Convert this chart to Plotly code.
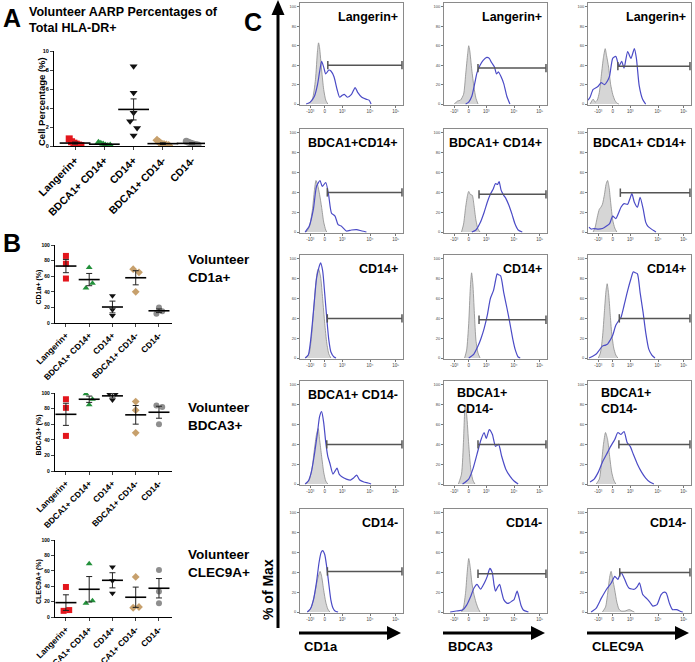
import plotly.graph_objects as go
import numpy as np

W, H = 695, 662
FONT = "Liberation Sans, Arial, sans-serif"

# ---------------- data ----------------
CATEGORIES = ["Langerin+", "BDCA1+ CD14+", "CD14+", "BDCA1+ CD14-", "CD14-"]

# Panel A : % of total HLA-DR+
A_LANGERIN = [0.75, 0.45, 0.3, 0.2, 0.1, 0.05]
A_BDCA1_CD14P = [0.4, 0.3, 0.2, 0.1, 0.05, 0.1]
A_CD14P = [8.4, 5.6, 3.5, 2.6, 1.9, 1.1]
A_BDCA1_CD14N = [0.6, 0.4, 0.2, 0.15, 0.1, 0.05]
A_CD14N = [0.5, 0.4, 0.3, 0.2, 0.15, 0.1]
A_TICKS = [0, 2, 4, 6, 8, 10]

# Panel B : % positive (3 volunteers per subset)
B_CD1A = [[86, 76, 57], [71, 45, 51], [35, 17, 9.5], [69, 65, 40], [20, 12, 15]]
B_BDCA3 = [[92, 81, 45], [99, 92, 85], [99, 99, 91], [89, 78, 49], [84, 82, 60]]
B_CLEC9A = [[39, 8, 9], [69, 18, 21], [65, 47, 31], [52, 12, 13], [61, 33, 18]]
B_TICKS = [0, 20, 40, 60, 80, 100]

# Panel C : histograms, (display position 0-100, % of max)
HIST_TICKVALS = [10, 24, 41, 68, 93]
HIST_TICKTEXT = ["-10³", "0", "10³", "10⁴", "10⁵"]
HIST_YTICKS = [0, 20, 40, 60, 80, 100]

CD1A_LANGERIN_ISO = [(8,0),(12,5),(15,25),(17,55),(18,63),(19,58),(21,35),(23,15),(25,4),(27,0)]
CD1A_LANGERIN_STAIN = [(6,0),(10,2),(14,8),(17,20),(19,33),(21,44),(23,38),(25,31),(28,35),(30,34),(33,28),(36,15),(38.5,7),(41,9),(43,10),(46,7),(50,10),(53.5,17),(56,12),(60,7),(64,5),(67,4),(69,0)]
CD1A_LANGERIN_GATE = (27, 40)

CD1A_BDCA1_CD14P_ISO = [(6,0),(9,5),(12,22),(14,42),(15.5,52),(17,48),(19,38),(21,25),(23,10),(25,2),(26,0)]
CD1A_BDCA1_CD14P_STAIN = [(5,0),(9,6),(13,23),(16,46),(19.4,52),(21.6,46),(25,50),(27.7,38),(30.6,19),(34,16),(37,7.5),(40,6),(45,1),(50,2),(55,2.4),(60,1),(64.5,0)]
CD1A_BDCA1_CD14P_GATE = (26.5, 40)

CD1A_CD14P_ISO = [(6,0),(9,5),(11,20),(13,45),(15,72),(17,88),(18,90),(20,82),(22,60),(24,35),(26,15),(28,4),(30,0)]
CD1A_CD14P_STAIN = [(5,0),(8,3),(10,15),(12,35),(14,58),(16,80),(18,90),(20,96),(22,88),(24,65),(26,40),(28,18),(30,6),(33,1),(35,0)]
CD1A_CD14P_GATE = (26.5, 40)

CD1A_BDCA1_CD14N_ISO = [(6,0),(9,4),(12,18),(14,35),(16,50),(17.7,56),(19,45),(21,28),(23,12),(25,3),(27,0)]
CD1A_BDCA1_CD14N_STAIN = [(5,0),(8,3),(11,12),(14,30),(17,52),(19,68),(21,73),(23,62),(25,42),(27,28),(29,21),(32,10),(34,13),(36,16),(38,10),(41,7),(45,5),(49,4),(52,6),(55,9),(58,4),(62,2),(66,1),(69,0)]
CD1A_BDCA1_CD14N_GATE = (26, 40)

CD1A_CD14N_ISO = [(8,0),(11,5),(14,17),(17,33),(19.5,41),(21,36),(23,22),(25,10),(27,3),(29,0)]
CD1A_CD14N_STAIN = [(7,0),(10,3),(13,12),(16,30),(18.5,50),(20.5,60),(22,62),(24,58),(26,45),(28,28),(30,12),(32,4),(34,1),(37,0)]
CD1A_CD14N_GATE = (26.6, 41)

BDCA3_LANGERIN_ISO = [(10,0),(13,3),(16,4),(19,10),(21,30),(23,52),(24,60),(25,55),(27,35),(29,18),(31,6),(33,0)]
BDCA3_LANGERIN_STAIN = [(21,0),(24,2),(27,8),(30,22),(32,32),(35,40),(38,45),(41.5,48),(44,47),(46,43),(49,38),(51,31),(53,33),(55,29),(58,21),(61,8),(64,0)]
BDCA3_LANGERIN_GATE = (33, 37)

BDCA3_BDCA1_CD14P_ISO = [(17,0),(19,8),(21,25),(23,38),(24,41),(25.5,38),(27.5,37),(29,28),(31,12),(33,3),(35,0)]
BDCA3_BDCA1_CD14P_STAIN = [(27,0),(31,2),(35,9),(39,20),(42,30),(45,38),(48,44),(50,49),(52,48),(53.5,51),(55.5,42),(58,37),(60,34),(63,27),(66,18),(69,8),(72,2),(76,0)]
BDCA3_BDCA1_CD14P_GATE = (34, 38)

BDCA3_CD14P_ISO = [(20,0),(22,8),(24,35),(25.5,70),(26.8,86),(28,75),(29.5,45),(31,18),(33,5),(35,0)]
BDCA3_CD14P_STAIN = [(24,0),(29,4),(33,12),(36,20),(39,30),(42,43),(45,60),(48,68),(50,78),(51.6,85),(53,84),(55,83),(58,66),(61,51),(64,35),(67,18),(69,9),(72,1),(74,0)]
BDCA3_CD14P_GATE = (34, 38.6)

BDCA3_BDCA1_CD14N_ISO = [(14,0),(17,10),(19,45),(20.5,80),(22,70),(24,40),(26,15),(28,4),(30,0)]
BDCA3_BDCA1_CD14N_STAIN = [(18,0),(24,5),(28,15),(32,30),(36,45),(39,52),(41,46),(44,55),(47,50),(50,38),(53,40),(56,28),(60,15),(64,8),(68,3),(72,0)]
BDCA3_BDCA1_CD14N_GATE = (33, 40)

BDCA3_CD14N_ISO = [(17,0),(19,5),(21,20),(22.5,40),(24,54),(25.5,45),(27,30),(29,18),(31,10),(33,4),(35,0)]
BDCA3_CD14N_STAIN = [(6,0),(12,1),(18,2),(22,7),(26,16),(29,24),(32,28),(34,25),(35.5,23),(38,27),(40,31),(42,36),(44.5,44),(46.8,40),(48.5,28),(50,21),(52,25),(54,28),(56,20),(58,12.5),(61,9),(63,9),(66,11),(68,12.5),(71,21),(73,14),(75,6),(77,2),(82,0)]
BDCA3_CD14N_GATE = (33, 38.6)

CLEC9A_LANGERIN_ISO = [(2,0),(5,5),(7,2),(9,4),(11,12),(13,30),(15,48),(16.7,57),(18,50),(20,38),(22,20),(24,10),(26,4),(28,1),(30,0)]
CLEC9A_LANGERIN_STAIN = [(0,4),(2,7),(5,15),(9.6,18),(12.8,22),(16,20),(19,24),(21,29),(24,47),(27,49),(30,39),(32.7,44),(35,37),(38.5,54),(41.7,47),(45,57),(47,47),(49.7,19),(53,5),(56,0)]
CLEC9A_LANGERIN_GATE = (29, 39)

CLEC9A_BDCA1_CD14P_ISO = [(5,0),(7,5),(9,15),(11,23),(12.5,25),(14,28),(16,38),(17.5,48),(19,52),(20.5,45),(22,30),(24,12),(26,4),(28,0)]
CLEC9A_BDCA1_CD14P_STAIN = [(1,5),(3,3),(6,3.5),(10,3),(14,3.5),(18,6),(21,8.5),(24,16),(27,13.5),(30,20),(32,25),(35,28.6),(38.5,28),(40.5,33),(42.6,38.7),(45,30),(48,25),(50.6,35),(53.5,23.5),(56,10),(58,6),(61,3.4),(66,0)]
CLEC9A_BDCA1_CD14P_GATE = (31.4, 39.7)

CLEC9A_CD14P_ISO = [(10,0),(12,5),(14,20),(16,48),(17.5,68),(18.6,75),(20,65),(21.5,45),(23,25),(25,10),(27,3),(29,0)]
CLEC9A_CD14P_STAIN = [(1,0),(5,2),(8,4),(11,8),(14,12),(17,13),(19,14),(21.5,18),(24,23),(27,33),(30,38),(32,41),(35,53),(38.5,68),(41.7,80),(44,87),(46,86),(48,85),(50.6,66),(53.5,46),(56,26),(59,9),(62,3),(65,0)]
CLEC9A_CD14P_GATE = (30.4, 40)

CLEC9A_BDCA1_CD14N_ISO = [(8,0),(11,5),(13,20),(15,40),(17,52),(19,45),(21,28),(23,12),(25,4),(27,0)]
CLEC9A_BDCA1_CD14N_STAIN = [(2,2),(6,5),(10,12),(14,22),(18,30),(22,38),(26,45),(29,52),(32,50),(35,53),(38,42),(41,38),(44,30),(48,20),(52,12),(56,6),(60,2),(64,0)]
CLEC9A_BDCA1_CD14N_GATE = (30, 40)

CLEC9A_CD14N_ISO = [(14,0),(17,5),(19,18),(21,35),(22.4,41),(24,33),(26,22),(28,10),(30,3),(32,1),(36,1),(40,2.5),(43,1),(45,0)]
CLEC9A_CD14N_STAIN = [(3,0),(8,4),(13,14),(18,23),(22.7,29.5),(26,36),(29,33),(32,40),(35.6,33),(38,27),(40,24),(45,23),(48,26),(50,29.5),(53,18),(58,12.5),(60,10),(63,6),(67,7.5),(71,17.6),(74,20),(76,19),(79,9),(82,2.4),(86,2.4),(90,0.5),(92,0)]
CLEC9A_CD14N_GATE = (30.8, 40)

HIST_LABELS = ["Langerin+", "BDCA1+CD14+", "CD14+", "BDCA1+ CD14-", "CD14-"]
HIST_LABELS_23 = ["Langerin+", "BDCA1+ CD14+", "CD14+", "BDCA1+<br>CD14-", "CD14-"]
MARKER_NAMES = ["CD1a", "BDCA3", "CLEC9A"]

HISTS = [
    [(CD1A_LANGERIN_ISO, CD1A_LANGERIN_STAIN, CD1A_LANGERIN_GATE),
     (BDCA3_LANGERIN_ISO, BDCA3_LANGERIN_STAIN, BDCA3_LANGERIN_GATE),
     (CLEC9A_LANGERIN_ISO, CLEC9A_LANGERIN_STAIN, CLEC9A_LANGERIN_GATE)],
    [(CD1A_BDCA1_CD14P_ISO, CD1A_BDCA1_CD14P_STAIN, CD1A_BDCA1_CD14P_GATE),
     (BDCA3_BDCA1_CD14P_ISO, BDCA3_BDCA1_CD14P_STAIN, BDCA3_BDCA1_CD14P_GATE),
     (CLEC9A_BDCA1_CD14P_ISO, CLEC9A_BDCA1_CD14P_STAIN, CLEC9A_BDCA1_CD14P_GATE)],
    [(CD1A_CD14P_ISO, CD1A_CD14P_STAIN, CD1A_CD14P_GATE),
     (BDCA3_CD14P_ISO, BDCA3_CD14P_STAIN, BDCA3_CD14P_GATE),
     (CLEC9A_CD14P_ISO, CLEC9A_CD14P_STAIN, CLEC9A_CD14P_GATE)],
    [(CD1A_BDCA1_CD14N_ISO, CD1A_BDCA1_CD14N_STAIN, CD1A_BDCA1_CD14N_GATE),
     (BDCA3_BDCA1_CD14N_ISO, BDCA3_BDCA1_CD14N_STAIN, BDCA3_BDCA1_CD14N_GATE),
     (CLEC9A_BDCA1_CD14N_ISO, CLEC9A_BDCA1_CD14N_STAIN, CLEC9A_BDCA1_CD14N_GATE)],
    [(CD1A_CD14N_ISO, CD1A_CD14N_STAIN, CD1A_CD14N_GATE),
     (BDCA3_CD14N_ISO, BDCA3_CD14N_STAIN, BDCA3_CD14N_GATE),
     (CLEC9A_CD14N_ISO, CLEC9A_CD14N_STAIN, CLEC9A_CD14N_GATE)],
]

# ---------------- styles ----------------
COLORS = ["#e3161c", "#22903a", "#111111", "#c7a06c", "#8e8e8e"]
SYMBOLS = ["square", "triangle-up", "triangle-down", "diamond", "circle"]
A_SPREAD = [[-0.2, -0.12, -0.04, 0.04, 0.12, 0.2],
            [-0.2, -0.12, -0.04, 0.04, 0.12, 0.2],
            [0, 0, 0, -0.12, 0.12, 0],
            [-0.2, -0.12, -0.04, 0.04, 0.12, 0.2],
            [-0.2, -0.12, -0.04, 0.04, 0.12, 0.2]]
B_SPREAD = {
    "cd1a": [[0, 0, 0], [0, -0.14, 0.14], [0, 0, 0], [-0.11, 0.14, 0], [0, -0.11, 0.14]],
    "bdca3": [[0, 0, 0], [-0.14, 0.14, 0], [-0.14, 0.14, 0], [0, 0, 0], [-0.11, 0.14, 0]],
    "clec9a": [[0, -0.1, 0.14], [0, -0.14, 0.14], [0, 0, 0], [0, -0.11, 0.14], [0, 0, 0]],
}


def X(p):
    return p / W


def Y(p):
    return 1 - p / H


fig = go.Figure()
layout = dict(width=W, height=H, margin=dict(l=0, r=0, t=0, b=0, pad=0), autosize=False,
              paper_bgcolor="white", plot_bgcolor="white", showlegend=False,
              font=dict(family=FONT, color="black"))
annotations = []
shapes = []


def axnames(i):
    return ("xaxis" if i == 1 else f"xaxis{i}", "yaxis" if i == 1 else f"yaxis{i}",
            "x" if i == 1 else f"x{i}", "y" if i == 1 else f"y{i}")


def add_dot_plot(i, groups, spreads, xdom, ydom, yrng, yticks, xr, tick_size, ytick_size,
                 ytitle, ytitle_size, ytitle_x, msize, mean_w):
    xa, ya, xr_name, yr_name = axnames(i)
    layout[xa] = dict(domain=[X(xdom[0]), X(xdom[1])], anchor=yr_name, range=xr,
                      tickvals=list(range(5)), ticktext=CATEGORIES, tickangle=-45,
                      tickfont=dict(size=tick_size, weight="bold", family=FONT),
                      showline=True, linecolor="black", linewidth=1.3, ticks="outside",
                      ticklen=3, tickwidth=1, showgrid=False, zeroline=False, fixedrange=True,
                      automargin=False)
    layout[ya] = dict(domain=[Y(ydom[1]), Y(ydom[0])], anchor=xr_name, range=yrng,
                      tickvals=yticks, tickfont=dict(size=ytick_size, weight="bold", family=FONT),
                      showline=True, linecolor="black", linewidth=1.3, ticks="outside",
                      ticklen=3, tickwidth=1, showgrid=False, zeroline=False, fixedrange=True,
                      automargin=False)
    annotations.append(dict(text=ytitle, xref="paper", yref="paper", x=X(ytitle_x),
                            y=Y((ydom[0] + ydom[1]) / 2 + 3), textangle=-90, showarrow=False,
                            xanchor="center", yanchor="middle",
                            font=dict(size=ytitle_size, weight="bold", family=FONT)))
    for k, vals in enumerate(groups):
        xs = [k + s for s in spreads[k]]
        fig.add_trace(go.Scatter(x=xs, y=vals, xaxis=xr_name, yaxis=yr_name, mode="markers",
                                 marker=dict(symbol=SYMBOLS[k], color=COLORS[k], size=msize,
                                             line=dict(width=0)), hoverinfo="skip"))
        m = float(np.mean(vals))
        sem = float(np.std(vals, ddof=1) / np.sqrt(len(vals)))
        fig.add_trace(go.Scatter(x=[k], y=[m], xaxis=xr_name, yaxis=yr_name, mode="markers",
                                 marker=dict(symbol="line-ew", size=mean_w, color="black",
                                             line=dict(width=1.6, color="black")),
                                 error_y=dict(type="data", array=[sem], color="#222", thickness=1,
                                              width=3), hoverinfo="skip"))


# Panel A
add_dot_plot(1, [A_LANGERIN, A_BDCA1_CD14P, A_CD14P, A_BDCA1_CD14N, A_CD14N], A_SPREAD,
             (54, 205), (51, 146), [0, 10], A_TICKS, [-0.72, 4.44], 10.5, 5.5,
             "Cell Percentage (%)", 9.5, 41.5, 7, 22)

# Panel B
B_SETS = [(B_CD1A, "cd1a", "CD1a+ (%)", (245, 323), "CD1a+"),
          (B_BDCA3, "bdca3", "BDCA3+ (%)", (393, 471), "BDCA3+"),
          (B_CLEC9A, "clec9a", "CLEC9A+ (%)", (540, 617), "CLEC9A+")]
for j, (vals, key, ttl, ydom, name) in enumerate(B_SETS):
    add_dot_plot(2 + j, vals, B_SPREAD[key], (55, 172), ydom, [0, 100], B_TICKS,
                 [-0.47, 4.56], 8.5, 5, ttl, 7, 38.5, 6, 15)
    annotations.append(dict(text="Volunteer<br>" + name, xref="paper", yref="paper",
                            x=X(186), y=Y(ydom[0] + 5), xanchor="left", yanchor="top",
                            align="left", showarrow=False,
                            font=dict(size=13.5, weight="bold", family=FONT)))

# Panel C
COL_X = [(300, 403), (444, 547), (588, 691)]
ROW_Y = [(3, 105), (129, 233), (255, 359), (381, 485), (509, 613)]
for r in range(5):
    for c in range(3):
        i = 5 + r * 3 + c
        xa, ya, xr_name, yr_name = axnames(i)
        iso, stain, gate = HISTS[r][c]
        layout[xa] = dict(domain=[X(COL_X[c][0]), X(COL_X[c][1])], anchor=yr_name,
                          range=[0, 100], tickvals=HIST_TICKVALS, ticktext=HIST_TICKTEXT,
                          tickfont=dict(size=4.5, color="#444"), ticks="outside", ticklen=2,
                          tickcolor="#777", showline=True, linecolor="#8a8a8a", linewidth=1,
                          mirror=True, showgrid=False, zeroline=False, fixedrange=True,
                          automargin=False)
        layout[ya] = dict(domain=[Y(ROW_Y[r][1]), Y(ROW_Y[r][0])], anchor=xr_name,
                          range=[-1, 104], tickvals=HIST_YTICKS,
                          tickfont=dict(size=4, color="#444"), ticks="outside", ticklen=2,
                          tickcolor="#777", showline=True, linecolor="#8a8a8a", linewidth=1,
                          mirror=True, showgrid=False, zeroline=False, fixedrange=True,
                          automargin=False)
        fig.add_trace(go.Scatter(x=[p[0] for p in iso], y=[p[1] for p in iso],
                                 xaxis=xr_name, yaxis=yr_name, mode="lines",
                                 line=dict(color="#8c8c8c", width=0.8, shape="spline", smoothing=0.6),
                                 fill="tozeroy", fillcolor="#d6d6d6", hoverinfo="skip"))
        fig.add_trace(go.Scatter(x=[p[0] for p in stain], y=[p[1] for p in stain],
                                 xaxis=xr_name, yaxis=yr_name, mode="lines",
                                 line=dict(color="#4b4bc6", width=1.2, shape="spline", smoothing=0.6),
                                 hoverinfo="skip"))
        fig.add_trace(go.Scatter(x=[gate[0], 99], y=[gate[1], gate[1]],
                                 xaxis=xr_name, yaxis=yr_name, mode="lines+markers",
                                 line=dict(color="#555555", width=1.5),
                                 marker=dict(symbol="line-ns", size=6,
                                             line=dict(width=1.5, color="#555555")),
                                 hoverinfo="skip"))
        if r == 3 and c > 0:
            annotations.append(dict(text=HIST_LABELS_23[r], xref="paper", yref="paper",
                                    x=X(COL_X[c][0] + 11), y=Y(ROW_Y[r][0] + 3),
                                    xanchor="left", yanchor="top", align="left",
                                    showarrow=False,
                                    font=dict(size=12.5, weight="bold", family=FONT)))
        else:
            lbl = HIST_LABELS[r] if c == 0 else HIST_LABELS_23[r]
            annotations.append(dict(text=lbl, xref="paper", yref="paper",
                                    x=X(COL_X[c][1] - 3), y=Y(ROW_Y[r][0] + 14),
                                    xanchor="right", yanchor="middle", showarrow=False,
                                    font=dict(size=12.5, weight="bold", family=FONT)))

# bottom arrows + labels
for c in range(3):
    x0, x1 = COL_X[c]
    shapes.append(dict(type="line", xref="paper", yref="paper", x0=X(x0 - 1), x1=X(x1 - 14),
                       y0=Y(633), y1=Y(633), line=dict(color="black", width=3)))
    shapes.append(dict(type="path", xref="paper", yref="paper",
                       path=f"M {X(x1 - 2)} {Y(633)} L {X(x1 - 16)} {Y(626)} L {X(x1 - 16)} {Y(640)} Z",
                       fillcolor="black", line=dict(width=0)))
    annotations.append(dict(text=MARKER_NAMES[c], xref="paper", yref="paper", x=X(x0 + 2),
                            y=Y(646), xanchor="left", yanchor="middle", showarrow=False,
                            font=dict(size=13, weight="bold", family=FONT)))

# vertical arrow
shapes.append(dict(type="line", xref="paper", yref="paper", x0=X(278), x1=X(278),
                   y0=Y(628), y1=Y(12), line=dict(color="black", width=3)))
shapes.append(dict(type="path", xref="paper", yref="paper",
                   path=f"M {X(278)} {Y(0)} L {X(271.5)} {Y(15)} L {X(284.5)} {Y(15)} Z",
                   fillcolor="black", line=dict(width=0)))
annotations.append(dict(text="% of Max", xref="paper", yref="paper", x=X(268), y=Y(590),
                        textangle=-90, showarrow=False, xanchor="center", yanchor="middle",
                        font=dict(size=14, weight="bold", family=FONT)))

# panel letters and title A
for txt, px, py in [("A", 1, 18), ("B", 1, 243), ("C", 242, 22)]:
    annotations.append(dict(text=txt, xref="paper", yref="paper", x=X(px), y=Y(py),
                            xanchor="left", yanchor="middle", showarrow=False,
                            font=dict(size=25, weight="bold", family=FONT)))
annotations.append(dict(text="Volunteer AARP Percentages of<br>Total HLA-DR+", xref="paper",
                        yref="paper", x=X(27), y=Y(3), xanchor="left", yanchor="top",
                        align="left", showarrow=False,
                        font=dict(size=12.5, weight="bold", family=FONT)))

layout["annotations"] = annotations
layout["shapes"] = shapes
fig.update_layout(**layout)
fig.write_html("out.html", config={"displayModeBar": False},
               post_script="document.body.style.margin='0px';document.body.style.overflow='hidden';")
